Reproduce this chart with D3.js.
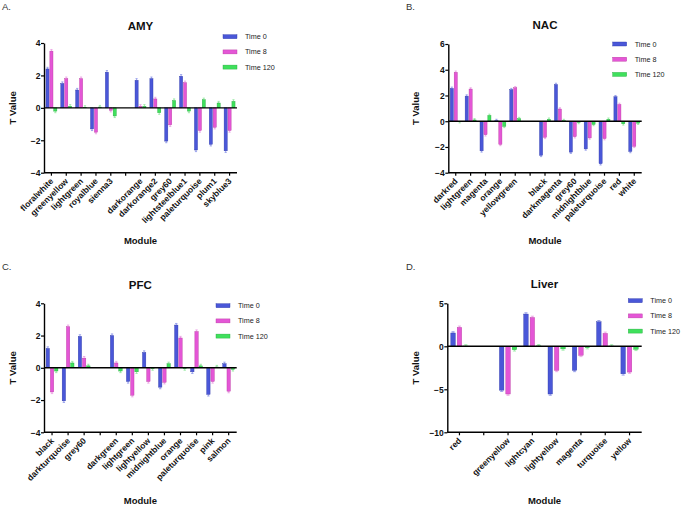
<!DOCTYPE html>
<html><head><meta charset="utf-8">
<script src="https://cdn.jsdelivr.net/npm/d3@7"></script>
<style>body{margin:0;background:#fff}svg{display:block}text{font-family:"Liberation Sans",Arial,sans-serif}</style>
</head><body><svg id="c" width="683" height="506"></svg>
<script>
const seriesNames = ["Time 0", "Time 8", "Time 120"];
const seriesFill = ["#4a57d8", "#e456d6", "#3fe05c"];
const seriesStroke = ["#2c37a8", "#b8389f", "#22a83a"];
const seriesErr = ["#8a93e8", "#eb9be3", "#8ee89b"];

const amyModules = ["floralwhite","greenyellow","lightgreen","royalblue","sienna3","","darkorange","darkorange2","grey60","lightsteelblue1","paleturquoise","plum1","skyblue3"];
const amyT0   = [2.4, 1.5, 1.1, -1.3, 2.2, null, 1.7, 1.8, -2.05, 1.95, -2.6, -2.25, -2.65];
const amyT8   = [3.5, 1.8, 1.8, -1.5, -0.15, null, 0.1, 0.55, -1.05, 1.55, -1.4, -1.2, -1.4];
const amyT120 = [-0.2, 0.1, 0.03, 0.05, -0.5, null, 0.1, -0.3, 0.45, -0.2, 0.5, 0.3, 0.4];
const amyTicks = [-4, -2, 0, 2, 4];

const nacModules = ["darkred","lightgreen","magenta","orange","yellowgreen","","black","darkmagenta","grey60","midnightblue","paleturquoise","red","white"];
const nacT0   = [2.55, 1.95, -2.3, 0.05, 2.45, null, -2.65, 2.85, -2.4, -2.15, -3.3, 1.9, -2.35];
const nacT8   = [3.8, 2.5, -1.05, -1.8, 2.6, null, -1.25, 0.95, -1.2, -1.3, -1.35, 1.3, -1.95];
const nacT120 = [-0.03, 0.1, 0.45, -0.4, 0.2, null, 0.15, 0.05, -0.1, -0.25, 0.15, -0.2, -0.15];
const nacTicks = [-4, -2, 0, 2, 4, 6];

const pfcModules = ["black","darkturquoise","grey60","","darkgreen","lightgreen","lightyellow","midnightblue","orange","paleturquoise","pink","salmon"];
const pfcT0   = [1.2, -2.05, 1.95, null, 2.0, -0.85, 0.95, -1.2, 2.65, -0.25, -1.65, 0.25];
const pfcT8   = [-1.5, 2.55, 0.6, null, 0.3, -1.7, -0.85, -0.9, 1.85, 2.25, -0.85, -1.45];
const pfcT120 = [-0.2, 0.3, 0.12, null, -0.2, -0.25, -0.05, 0.25, -0.05, 0.12, 0.05, -0.1];
const pfcTicks = [-4, -2, 0, 2, 4];

const liverModules = ["red","","greenyellow","lightcyan","lightyellow","magenta","turquoise","yellow"];
const liverT0   = [1.55, null, -5.1, 3.75, -5.55, -2.8, 2.85, -3.2];
const liverT8   = [2.2, null, -5.55, 3.35, -2.8, -1.05, 1.5, -3.0];
const liverT120 = [0.03, null, -0.4, 0.05, -0.3, -0.15, 0.03, -0.35];
const liverTicks = [-10, -5, 0, 5];

const panels = [
  {letter:"A.", title:"AMY", mods:amyModules, vals:[amyT0,amyT8,amyT120], ticks:amyTicks, err:0.1, pin:0.2, pout:0.5,
   lx:2, ly:10, x0:44, x1:237, yTop:43, yBot:172.7, legX:223, legY:36.7, titleY:30, modY:244, ylabX:13},
  {letter:"B.", title:"NAC", mods:nacModules, vals:[nacT0,nacT8,nacT120], ticks:nacTicks, err:0.1, pin:0.2, pout:0.5,
   lx:406, ly:10, x0:448.3, x1:641.7, yTop:44, yBot:172.7, legX:612.7, legY:44, titleY:29, modY:244, ylabX:416},
  {letter:"C.", title:"PFC", mods:pfcModules, vals:[pfcT0,pfcT8,pfcT120], ticks:pfcTicks, err:0.1, pin:0.2, pout:0.5,
   lx:2, ly:270, x0:44, x1:236.7, yTop:303.3, yBot:432.3, legX:216, legY:305.7, titleY:289, modY:504, ylabX:13},
  {letter:"D.", title:"Liver", mods:liverModules, vals:[liverT0,liverT8,liverT120], ticks:liverTicks, err:0.15, pin:0.3, pout:0.55,
   lx:406, ly:270, x0:447.3, x1:641.7, yTop:303.3, yBot:432.3, legX:628.3, legY:300.7, titleY:288, modY:504, ylabX:416}
];

const svg = d3.select("#c");

panels.forEach(p => {
  const g = svg.append("g");
  const tmin = d3.min(p.ticks), tmax = d3.max(p.ticks);
  const y = d3.scaleLinear().domain([tmin, tmax]).range([p.yBot, p.yTop]);
  const x = d3.scaleBand().domain(d3.range(p.mods.length)).range([p.x0, p.x1]).padding(0);
  const xs = d3.scaleBand().domain([0,1,2]).range([0, x.bandwidth()]).paddingInner(p.pin).paddingOuter(p.pout);
  const y0 = y(0);

  g.append("text").attr("x", p.lx).attr("y", p.ly).attr("font-size", 9.5).attr("fill", "#333").text(p.letter);
  g.append("text").attr("x", (p.x0 + p.x1)/2).attr("y", p.titleY).attr("text-anchor","middle")
    .attr("font-size", 11.5).attr("font-weight","bold").attr("fill","#111").text(p.title);

  p.vals.forEach((arr, si) => {
    arr.forEach((v, i) => {
      if (v === null) return;
      const bx = x(i) + xs(si), bw = xs.bandwidth();
      const top = Math.min(y(v), y0), h = Math.abs(y(v) - y0);
      const sgn = v >= 0 ? 1 : -1;
      const ye = y(v + sgn * p.err);
      g.append("line").attr("x1", bx + bw/2).attr("x2", bx + bw/2).attr("y1", y(v)).attr("y2", ye)
        .attr("stroke", seriesErr[si]).attr("stroke-width", 0.8);
      g.append("line").attr("x1", bx + bw*0.15).attr("x2", bx + bw*0.85).attr("y1", ye).attr("y2", ye)
        .attr("stroke", seriesErr[si]).attr("stroke-width", 0.8);
      g.append("rect").attr("x", bx).attr("y", top).attr("width", bw).attr("height", Math.max(h, 0.4))
        .attr("fill", seriesFill[si]).attr("stroke", seriesStroke[si]).attr("stroke-width", 0.4);
    });
  });

  const yAxis = d3.axisLeft(y).tickValues(p.ticks).tickSize(3).tickSizeOuter(0).tickFormat(d3.format("d"));
  const ga = g.append("g").attr("transform", `translate(${p.x0},0)`).call(yAxis);
  ga.select(".domain").attr("stroke","#000").attr("stroke-width",1.4);
  ga.selectAll(".tick line").attr("stroke","#000").attr("stroke-width",1.2);
  ga.selectAll(".tick text").attr("font-size",8.5).attr("font-weight","bold").attr("fill","#111")
    .attr("font-family",'"Liberation Sans",Arial,sans-serif').attr("x",-3.5).attr("dy","0.34em");

  const gx = g.append("g").attr("transform", `translate(0,${p.yBot})`);
  gx.append("line").attr("x1", p.x0).attr("x2", p.x1).attr("y1",0).attr("y2",0).attr("stroke","#000").attr("stroke-width",1.4);
  p.mods.forEach((m, i) => {
    const cx = x(i) + x.bandwidth()/2;
    gx.append("line").attr("x1", cx).attr("x2", cx).attr("y1", 0).attr("y2", 3).attr("stroke","#000").attr("stroke-width",1.2);
    if (m) {
      gx.append("text").attr("transform", `translate(${cx + 2.5},${9}) rotate(-45)`)
        .attr("text-anchor","end").attr("font-size", 8.5).attr("font-weight","bold").attr("fill","#111").text(m);
    }
  });

  g.append("line").attr("x1", p.x0).attr("x2", p.x1).attr("y1", y0).attr("y2", y0).attr("stroke","#000").attr("stroke-width",1.4);

  g.append("text").attr("transform", `translate(${p.ylabX},${(p.yTop+p.yBot)/2}) rotate(-90)`)
    .attr("text-anchor","middle").attr("dy","0.35em").attr("font-size", 9.5).attr("font-weight","bold").attr("fill","#111").text("T Value");
  g.append("text").attr("x", (p.x0+p.x1)/2).attr("y", p.modY).attr("text-anchor","middle")
    .attr("font-size", 9.5).attr("font-weight","bold").attr("fill","#111").text("Module");

  seriesNames.forEach((s, si) => {
    const ly = p.legY + si * 15.2;
    g.append("rect").attr("x", p.legX).attr("y", ly - 2).attr("width", 14).attr("height", 4)
      .attr("fill", seriesFill[si]).attr("stroke", seriesStroke[si]).attr("stroke-width", 0.4);
    g.append("text").attr("x", p.legX + 22).attr("y", ly).attr("dy","0.35em").attr("font-size", 7.2).attr("fill","#222").text(s);
  });
});
</script></body></html>
